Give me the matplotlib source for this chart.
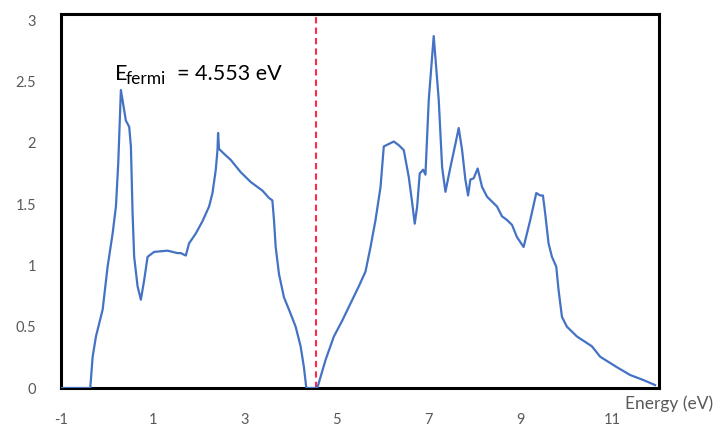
import matplotlib
matplotlib.use("Agg")
import matplotlib.pyplot as plt

# Density of states vs energy (eV)
energy = [-1.0, -0.363, -0.311, -0.239, -0.093, 0.015, 0.124, 0.196, 0.246, 0.304,
          0.413, 0.485, 0.522, 0.559, 0.593, 0.667, 0.739, 0.811, 0.885, 1.028,
          1.320, 1.537, 1.609, 1.717, 1.789, 1.935, 2.080, 2.224, 2.298, 2.370,
          2.407, 2.420, 2.441, 2.550, 2.696, 2.913, 3.130, 3.385, 3.528, 3.602,
          3.637, 3.674, 3.746, 3.854, 3.963, 4.109, 4.217, 4.289, 4.341, 4.580,
          4.761, 4.941, 5.124, 5.304, 5.485, 5.630, 5.739, 5.848, 5.957, 6.028,
          6.137, 6.246, 6.354, 6.463, 6.572, 6.646, 6.702, 6.754, 6.811, 6.885,
          6.935, 7.007, 7.115, 7.224, 7.298, 7.370, 7.478, 7.587, 7.659, 7.733,
          7.804, 7.863, 7.913, 7.985, 8.072, 8.167, 8.276, 8.493, 8.602, 8.711,
          8.820, 8.928, 9.072, 9.217, 9.348, 9.435, 9.493, 9.543, 9.615, 9.689,
          9.783, 9.833, 9.907, 10.015, 10.233, 10.559, 10.739, 11.102, 11.391, 11.680,
          11.935]
dos = [0.0, 0.0, 0.255, 0.42, 0.64, 0.99, 1.26, 1.48, 1.83, 2.43,
       2.18, 2.13, 1.97, 1.42, 1.07, 0.83, 0.72, 0.88, 1.07, 1.11,
       1.12, 1.10, 1.10, 1.08, 1.18, 1.26, 1.36, 1.48, 1.59, 1.78,
       1.94, 2.08, 1.95, 1.91, 1.86, 1.76, 1.68, 1.61, 1.55, 1.53,
       1.37, 1.15, 0.93, 0.74, 0.64, 0.50, 0.34, 0.17, 0.0, 0.0,
       0.23, 0.42, 0.55, 0.69, 0.83, 0.95, 1.15, 1.37, 1.64, 1.97,
       1.99, 2.01, 1.98, 1.94, 1.72, 1.51, 1.34, 1.48, 1.75, 1.78,
       1.74, 2.35, 2.87, 2.35, 1.80, 1.60, 1.80, 1.99, 2.12, 1.94,
       1.70, 1.57, 1.70, 1.71, 1.79, 1.64, 1.56, 1.48, 1.40, 1.37,
       1.33, 1.23, 1.15, 1.37, 1.59, 1.57, 1.57, 1.42, 1.18, 1.07,
       0.99, 0.80, 0.58, 0.50, 0.42, 0.34, 0.255, 0.17, 0.106, 0.065,
       0.024]

e_fermi = 4.553
x_ticks = [-1, 1, 3, 5, 7, 9, 11]
y_ticks = [0, 0.5, 1, 1.5, 2, 2.5, 3]
y_tick_labels = ["0", "0.5", "1", "1.5", "2", "2.5", "3"]

plt.rcParams["font.family"] = ["Lato", "DejaVu Sans"]
W, H = 715, 432
fig = plt.figure(figsize=(W / 100, H / 100), dpi=100)
ax = fig.add_axes([61 / W, 1 - 388 / H, (659 - 61) / W, (388 - 14) / H])

ax.plot(energy, dos, color="#4472C4", lw=1.6, solid_joinstyle="round", zorder=3)
ax.axvline(e_fermi, color="#FF2A4A", lw=1.5, ls=(0, (3, 2)), zorder=2)

ax.set_xlim(-1, 12.02)
ax.set_ylim(0, 3.05)
ax.set_xticks(x_ticks)
ax.set_xticklabels([str(t) for t in x_ticks])
ax.set_yticks(y_ticks)
ax.set_yticklabels(y_tick_labels)
ax.tick_params(axis="both", length=0, colors="#595959", labelsize=10.5)
ax.tick_params(axis="x", pad=18)
ax.tick_params(axis="y", pad=18)

for sp in ax.spines.values():
    sp.set_color("black")
    sp.set_linewidth(2.2)

# Energy axis title at the lower right
fig.text(713 / W, 1 - 409 / H, "Energy (eV)", ha="right", va="baseline",
         fontsize=12.5, color="#595959")

# Fermi level annotation
fig.text(115 / W, 1 - 79.5 / H, "E", ha="left", va="baseline", fontsize=15.5, color="black")
fig.text(126 / W, 1 - 83.5 / H, "fermi", ha="left", va="baseline", fontsize=12.5, color="black")
fig.text(177 / W, 1 - 79.5 / H, "= 4.553 eV", ha="left", va="baseline", fontsize=15.5, color="black")

fig.savefig("out.png", dpi=100, facecolor="white")
